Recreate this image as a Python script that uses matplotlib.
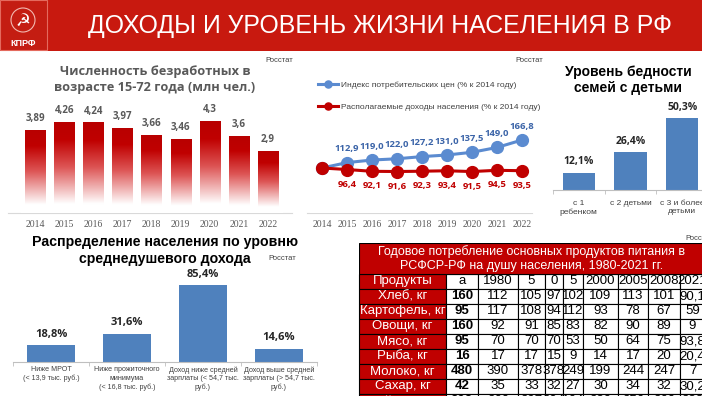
import numpy as np
import matplotlib.pyplot as plt
from matplotlib.colors import LinearSegmentedColormap
from matplotlib.patches import Rectangle, Circle

W, H = 702, 396

title = 'ДОХОДЫ И УРОВЕНЬ ЖИЗНИ НАСЕЛЕНИЯ В РФ'

years = ['2014', '2015', '2016', '2017', '2018', '2019', '2020', '2021', '2022']
unemployed = [3.89, 4.26, 4.24, 3.97, 3.66, 3.46, 4.3, 3.6, 2.9]
cpi = [100, 112.9, 119.0, 122.0, 127.2, 131.0, 137.5, 149.0, 166.8]
income = [100, 96.4, 92.1, 91.6, 92.3, 93.4, 91.5, 94.5, 93.5]
cpi_name = 'Индекс потребительских цен (% к 2014 году)'
income_name = 'Располагаемые доходы населения (% к 2014 году)'

poverty_cats = ['с 1\nребенком', 'с 2 детьми', 'с 3 и более\nдетьми']
poverty = [12.1, 26.4, 50.3]

dist_cats = ['Ниже МРОТ\n(< 13,9 тыс. руб.)',
             'Ниже прожиточного\nминимума\n(< 16,8 тыс. руб.)',
             'Доход ниже средней\nзарплаты (< 54,7 тыс.\nруб.)',
             'Доход выше средней\nзарплаты (> 54,7 тыс.\nруб.)']
dist = [18.8, 31.6, 85.4, 14.6]

table_title = 'Годовое потребление основных продуктов питания в\nРСФСР-РФ на душу населения, 1980-2021 гг.'
table_head = ['Продукты', 'а', '1980', '5', '0', '5', '2000', '2005', '2008', '2021']
table_rows = [
    ['Хлеб, кг', '160', '112', '105', '97', '102', '109', '113', '101', '90,1'],
    ['Картофель, кг', '95', '117', '108', '94', '112', '93', '78', '67', '59'],
    ['Овощи, кг', '160', '92', '91', '85', '83', '82', '90', '89', '9'],
    ['Мясо, кг', '95', '70', '70', '70', '53', '50', '64', '75', '93,8'],
    ['Рыба, кг', '16', '17', '17', '15', '9', '14', '17', '20', '20,4'],
    ['Молоко, кг', '480', '390', '378', '378', '249', '199', '244', '247', '7'],
    ['Сахар, кг', '42', '35', '33', '32', '27', '30', '34', '32', '30,2'],
    ['Яйца, шт', '292', '260', '297', '304', '164', '229', '256', '260', '283'],
]

RED = '#C00000'
BLUE = '#4F81BD'
SANS = ['Liberation Sans', 'DejaVu Sans']
SOFT = ['Open Sans', 'DejaVu Sans']
SERIF = ['Liberation Serif', 'DejaVu Serif']


def comma(v, fmt='{:g}'):
    return fmt.format(v).replace('.', ',')


fig = plt.figure(figsize=(W / 100, H / 100), dpi=100)


def px_axes(x0, y0, x1, y1):
    return fig.add_axes([x0 / W, 1 - y1 / H, (x1 - x0) / W, (y1 - y0) / H])


# фон и шапка (в пикселях)
bg = px_axes(0, 0, W, H)
bg.set_xlim(0, W)
bg.set_ylim(H, 0)
bg.axis('off')
bg.add_patch(Rectangle((0, 0), W, 51, color='#C8190F', lw=0))
bg.add_patch(Rectangle((0, 0), 47, 50, fc='#C41D12', ec='#E46A5E', lw=0.8))
bg.add_patch(Circle((23, 20), 12, fc='none', ec='#F2B8B0', lw=0.8))
bg.text(23, 21, '☭', ha='center', va='center', fontsize=12, color='white', family='DejaVu Sans')
bg.text(23, 43, 'КПРФ', ha='center', va='center', fontsize=6.5, color='white',
        fontweight='bold', family=SANS)
bg.text(380, 26, title, ha='center', va='center', fontsize=17.9, color='white', family=SANS)

for x, y in [(265, 61), (515, 61), (268, 258), (685, 238)]:
    bg.text(x, y, 'Росстат', ha='left', va='center', fontsize=5.5, color='#404040', family=SANS)

bg.plot([8, 292], [213, 213], color='#D9D9D9', lw=0.8)
bg.plot([307, 532], [213, 213], color='#D9D9D9', lw=0.8)

# 1. Безработные
bg.text(155, 79, 'Численность безработных в\nвозрасте 15-72 года (млн чел.)', ha='center', va='center',
        fontsize=9.2, color='#595959', fontweight='bold', family=SOFT, linespacing=1.3)
ax1 = px_axes(20.5, 110, 282.5, 213)
x = np.arange(len(years))
bars = ax1.bar(x, unemployed, width=0.69, color='none', lw=0)
cmap = LinearSegmentedColormap.from_list('fade', [(0, '#FFFFFF'), (0.1, '#FFFFFF'), (0.5, '#DD5555'),
                                                  (0.8, '#C00000'), (1, '#B80000')])
grad = np.linspace(0, 1, 256).reshape(-1, 1)
for b, v in zip(bars, unemployed):
    im = ax1.imshow(grad, extent=(b.get_x(), b.get_x() + b.get_width(), 0, v), origin='lower',
                    cmap=cmap, aspect='auto', zorder=2)
    im.set_clip_path(b)
    ax1.annotate(comma(v), (b.get_x() + b.get_width() / 2, v), xytext=(0, 4), textcoords='offset points',
                 ha='center', va='bottom', fontsize=7, color='#595959', fontweight='bold', family=SOFT)
ax1.set_xlim(-0.5, 8.5)
ax1.set_ylim(0, 4.81)
ax1.set_xticks(x, years, family=SERIF, fontsize=7, color='#595959')
ax1.tick_params(axis='x', length=0, pad=5)
ax1.set_yticks([])
for s in ax1.spines.values():
    s.set_visible(False)

# 2. Цены и доходы
ax2 = px_axes(309.5, 110, 534.5, 213)
l1, = ax2.plot(x, cpi, color='#5B8BD0', lw=2.2, marker='o', ms=8.5, label=cpi_name)
l2, = ax2.plot(x, income, color=RED, lw=2.2, marker='o', ms=8.5, label=income_name)
for i in range(1, len(years)):
    ax2.annotate(comma(cpi[i], '{:.1f}'), (i, cpi[i]), xytext=(0, 10), textcoords='offset points',
                 ha='center', va='center', fontsize=6.8, color='#3B64A8', fontweight='bold', family=SOFT)
    ax2.annotate(comma(income[i], '{:.1f}'), (i, income[i]), xytext=(0, -10.5), textcoords='offset points',
                 ha='center', va='center', fontsize=6.8, color=RED, fontweight='bold', family=SOFT)
ax2.set_xlim(-0.5, 8.5)
ax2.set_ylim(-7.4, 238.4)
ax2.set_xticks(x, years, family=SERIF, fontsize=7, color='#595959')
ax2.tick_params(axis='x', length=0, pad=5)
ax2.set_yticks([])
for s in ax2.spines.values():
    s.set_visible(False)
leg = ax2.legend(handles=[l1, l2], loc='upper left', bbox_to_anchor=(314 / W, 1 - 77 / H),
                 bbox_transform=fig.transFigure, frameon=False, prop={'family': SANS, 'size': 6},
                 handlelength=2.4, handletextpad=0.3, labelspacing=1.7, borderpad=0, markerscale=0.6)
for t in leg.get_texts():
    t.set_color('#404040')

# 3. Бедность семей с детьми
bg.text(628, 80, 'Уровень бедности\nсемей с детьми', ha='center', va='center', fontsize=10,
        fontweight='bold', color='black', family=SANS, linespacing=1.15)
ax3 = px_axes(553, 110, 708, 190)
x3 = np.arange(len(poverty))
ax3.bar(x3, poverty, width=0.62, color=BLUE)
for i, v in enumerate(poverty):
    ax3.annotate(comma(v, '{:.1f}') + '%', (i, v), xytext=(0, 4), textcoords='offset points',
                 ha='center', va='bottom', fontsize=7.5, fontweight='bold', color='#262626', family=SOFT)
ax3.set_xlim(-0.5, 2.5)
ax3.set_ylim(0, 56)

# 4. Распределение по доходу
for y, line in [(242, 'Распределение населения по уровню'), (259, 'среднедушевого дохода')]:
    bg.text(165, y, line, ha='center', va='center', fontsize=10.2, fontweight='bold',
            color='black', family=SANS)
ax4 = px_axes(13, 275, 317, 362)
x4 = np.arange(len(dist))
ax4.bar(x4, dist, width=0.62, color=BLUE)
for i, v in enumerate(dist):
    ax4.annotate(comma(v, '{:.1f}') + '%', (i, v), xytext=(0, 4), textcoords='offset points',
                 ha='center', va='bottom', fontsize=8, fontweight='bold', color='#262626', family=SOFT)
ax4.set_xlim(-0.5, 3.5)
ax4.set_ylim(0, 96.7)

for ax, cats, fs, pad in [(ax3, poverty_cats, 6, 7), (ax4, dist_cats, 5.1, 3)]:
    n = len(cats)
    ax.set_xticks(np.arange(n), cats, fontsize=fs, color='#404040', family=SANS, linespacing=1.3)
    ax.set_xticks(np.arange(-0.5, n, 1), minor=True)
    ax.tick_params(axis='x', which='major', length=0, pad=pad)
    ax.tick_params(axis='x', which='minor', length=3, color='#BFBFBF')
    ax.set_yticks([])
    for k, s in ax.spines.items():
        s.set_visible(k == 'bottom')
    ax.spines['bottom'].set_color('#BFBFBF')
    ax.spines['bottom'].set_linewidth(0.8)

# 5. Таблица потребления
col_w = [87, 32, 40, 27, 18, 20, 35, 30, 32, 25]
tw = sum(col_w)
axT = px_axes(359, 243, 359 + tw, 409)
axT.set_xlim(0, tw)
axT.set_ylim(166, 0)
axT.axis('off')
axT.add_patch(Rectangle((0, 0), tw, 30.5, fc=RED, ec='black', lw=0.8))
axT.text(173, 15.5, table_title, ha='center', va='center', fontsize=9, color='white',
         family=SANS, linespacing=1.15)
tbl = axT.table(cellText=[table_head] + table_rows, colWidths=[w / tw for w in col_w],
                cellLoc='center', bbox=[0, 0, 1, 135.5 / 166])
tbl.auto_set_font_size(False)
tbl.set_fontsize(9.5)
for (r, c), cell in tbl.get_celld().items():
    cell.set_edgecolor('black')
    cell.set_linewidth(0.8)
    txt = cell.get_text()
    txt.set_family(SANS)
    if c == 0:
        cell.set_facecolor(RED)
        txt.set_color('white')
    else:
        cell.set_facecolor('white')
        txt.set_color('black')
        if c == 1 and r > 0:
            txt.set_fontweight('bold')

fig.savefig('out.png', dpi=100)
